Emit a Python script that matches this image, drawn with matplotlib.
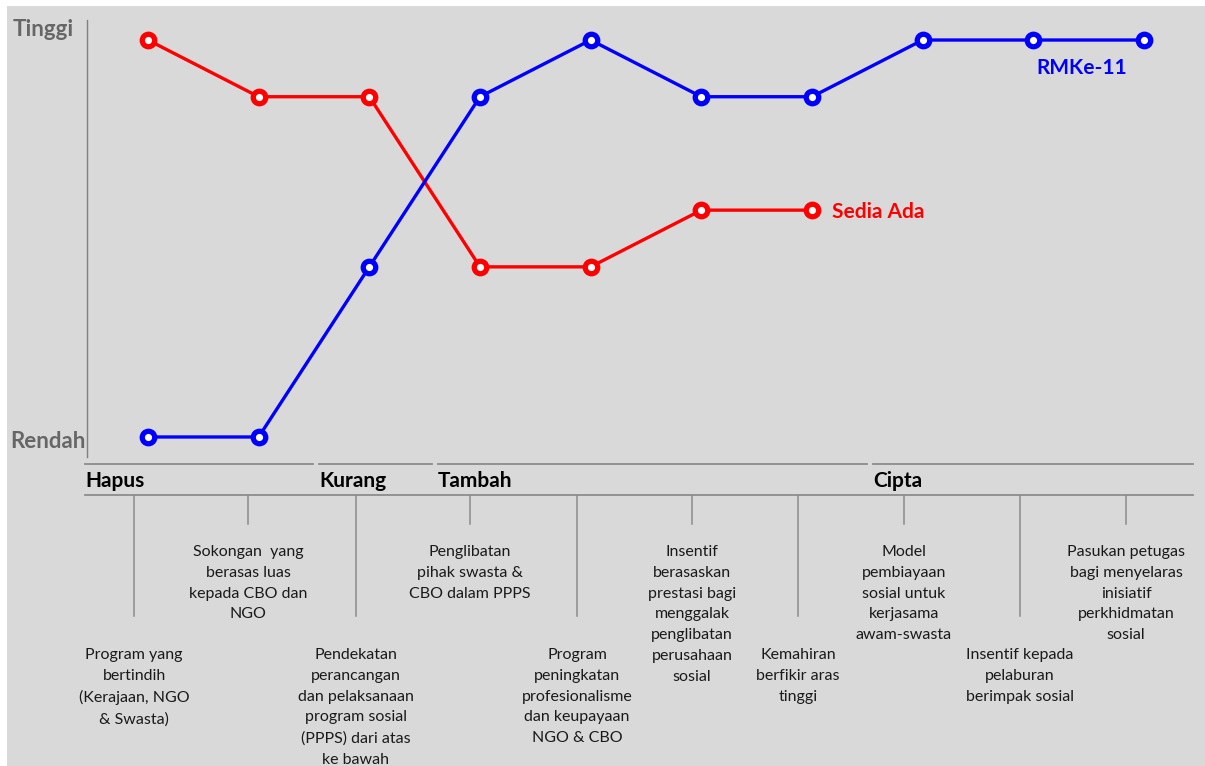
import matplotlib.pyplot as plt
from matplotlib.patches import Rectangle

plt.rcParams['font.family'] = ['Lato', 'DejaVu Sans']

# data: level 0 = Rendah, 7 = Tinggi
rmk11 = [0, 0, 3, 6, 7, 6, 6, 7, 7, 7]
sedia = [7, 6, 6, 3, 3, 4, 4]

groups = ['Hapus', 'Kurang', 'Tambah', 'Cipta']
group_span = [(85, 313), (319, 432), (438, 867), (873, 1193)]  # px

items = [
    'Program yang\nbertindih\n(Kerajaan, NGO\n& Swasta)',
    'Sokongan  yang\nberasas luas\nkepada CBO dan\nNGO',
    'Pendekatan\nperancangan\ndan pelaksanaan\nprogram sosial\n(PPPS) dari atas\nke bawah',
    'Penglibatan\npihak swasta &\nCBO dalam PPPS',
    'Program\npeningkatan\nprofesionalisme\ndan keupayaan\nNGO & CBO',
    'Insentif\nberasaskan\nprestasi bagi\nmenggalak\npenglibatan\nperusahaan\nsosial',
    'Kemahiran\nberfikir aras\ntinggi',
    'Model\npembiayaan\nsosial untuk\nkerjasama\nawam-swasta',
    'Insentif kepada\npelaburan\nberimpak sosial',
    'Pasukan petugas\nbagi menyelaras\ninisiatif\nperkhidmatan\nsosial',
]
item_x = [134, 248, 356, 470, 577, 692, 798, 904, 1020, 1126]

W, H = 1205, 766
def fx(x): return x / W
def fy(y): return 1 - y / H

fig = plt.figure(figsize=(12.05, 7.66), dpi=100)
fig.patch.set_facecolor('white')
fig.patches.append(Rectangle((fx(7), 0), 1 - fx(7), fy(6), transform=fig.transFigure,
                             facecolor='#d9d9d9', edgecolor='none', zorder=-10))

ax = fig.add_axes([fx(87), fy(457), fx(1200) - fx(87), fy(20) - fy(457)])
ax.set_facecolor('none')
ax.set_zorder(5)
ax.set_xlim(-0.551, 9.506)
ax.set_ylim(-0.353, 7.353)
for s in ['top', 'right', 'bottom']:
    ax.spines[s].set_visible(False)
ax.spines['left'].set_color('#808080')
ax.spines['left'].set_linewidth(1)
ax.set_xticks([])
ax.set_yticks([])

mk = dict(marker='o', markersize=9, markeredgewidth=3.8, markerfacecolor='white', lw=2.4)
ax.plot(range(len(sedia)), sedia, color='#ff0000', **mk)
ax.plot(range(len(rmk11)), rmk11, color='#0000ff', **mk)

ax.annotate('Sedia Ada', xy=(len(sedia) - 1, sedia[-1]), xytext=(14.5, -1),
            textcoords='offset points', color='#ff0000', fontsize=15,
            fontweight='bold', va='center', ha='left')
ax.annotate('RMKe-11', xy=(8, rmk11[8]), xytext=(35, -20),
            textcoords='offset points', color='#0000ff', fontsize=15,
            fontweight='bold', va='center', ha='center')

fig.text(fx(13), fy(29), 'Tinggi', color='#666666', fontsize=16, fontweight='bold', va='center')
fig.text(fx(10), fy(441), 'Rendah', color='#666666', fontsize=16, fontweight='bold', va='center')

# group header
lc = '#8c8c8c'
for g, (a, b) in zip(groups, group_span):
    fig.add_artist(plt.Line2D([fx(a), fx(b)], [fy(464), fy(464)], color=lc, lw=1.3))
    fig.text(fx(a), fy(481), g, fontsize=15, fontweight='bold', va='center', ha='left')
fig.add_artist(plt.Line2D([fx(85), fx(1193)], [fy(495), fy(495)], color=lc, lw=1.3))

for i, (t, x) in enumerate(zip(items, item_x)):
    if i % 2 == 0:
        fig.add_artist(plt.Line2D([fx(x), fx(x)], [fy(496), fy(616)], color=lc, lw=1.1))
        ty = 648
    else:
        fig.add_artist(plt.Line2D([fx(x), fx(x)], [fy(496), fy(524)], color=lc, lw=1.1))
        ty = 545
    fig.text(fx(x), fy(ty), t, fontsize=11.5, ha='center', va='top',
             linespacing=1.62, color='#1a1a1a')

fig.savefig('out.png', dpi=100)
